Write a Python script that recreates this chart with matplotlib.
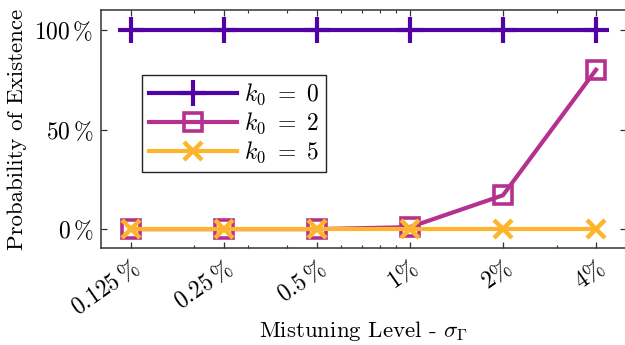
import matplotlib
matplotlib.use("Agg")
import matplotlib.pyplot as plt
from matplotlib.ticker import FixedLocator, LogLocator, NullFormatter

plt.rcParams["font.family"] = "serif"
plt.rcParams["font.serif"] = ["cmr10", "DejaVu Serif"]
plt.rcParams["mathtext.fontset"] = "cm"
plt.rcParams["axes.unicode_minus"] = False
plt.rcParams["axes.formatter.use_mathtext"] = True

# mistuning levels in percent
sigma = [0.125, 0.25, 0.5, 1, 2, 4]
sigma_labels = [r"$0.125\,\%$", r"$0.25\,\%$", r"$0.5\,\%$", r"$1\%$", r"$2\%$", r"$4\%$"]

prob_k0 = [100, 100, 100, 100, 100, 100]
prob_k2 = [0, 0, 0, 1, 17, 80]
prob_k5 = [0, 0, 0, 0, 0, 0]

y_ticks = [0, 50, 100]
y_labels = [r"$0\,\%$", r"$50\,\%$", r"$100\,\%$"]

fig = plt.figure(figsize=(6.25, 3.45), dpi=100)
ax = fig.add_axes([0.161, 0.281, 0.8406, 0.690])

ax.plot(sigma, prob_k0, color="#5203a3", linewidth=3, marker="+",
        markersize=19, markeredgewidth=3, label=r"$k_0\ =\ 0$")
ax.plot(sigma, prob_k2, color="#b5318f", linewidth=3, marker="s",
        markersize=13, markeredgewidth=2.6, markerfacecolor="none",
        label=r"$k_0\ =\ 2$")
ax.plot(sigma, prob_k5, color="#fcb52d", linewidth=3, marker="x",
        markersize=13, markeredgewidth=3.2, label=r"$k_0\ =\ 5$")

ax.set_xscale("log")
ax.set_xlim(0.1, 5)
ax.set_ylim(-9.5, 110)
ax.xaxis.set_major_locator(FixedLocator(sigma))
ax.xaxis.set_minor_locator(LogLocator(base=10, subs=(2, 3, 4, 5, 6, 7, 8, 9)))
ax.xaxis.set_minor_formatter(NullFormatter())
ax.set_xticklabels(sigma_labels, rotation=35, ha="right", rotation_mode="anchor",
                   fontsize=17)
ax.set_yticks(y_ticks)
ax.set_yticklabels(y_labels, fontsize=17)

ax.tick_params(which="both", direction="in", top=True, right=True, color="#333333")
ax.tick_params(which="major", length=4, width=0.9)
ax.tick_params(axis="y", which="major", pad=5)
ax.tick_params(axis="x", which="major", pad=6)
ax.tick_params(which="minor", length=2.3, width=0.8)
for s in ax.spines.values():
    s.set_color("#333333")
    s.set_linewidth(1.1)

ax.set_xlabel(r"Mistuning Level - $\sigma_\Gamma$", fontsize=16.5, labelpad=-1)
ax.set_ylabel("Probability of Existence", fontsize=16.5, labelpad=5)

leg = ax.legend(loc="upper left", bbox_to_anchor=(0.079, 0.727), borderaxespad=0,
                fontsize=17, fancybox=False, framealpha=1, edgecolor="#222222",
                handlelength=3.7, labelspacing=0.15, borderpad=0.3, handletextpad=0.3)
leg.get_frame().set_linewidth(1.0)

fig.savefig("out.png", dpi=100)
